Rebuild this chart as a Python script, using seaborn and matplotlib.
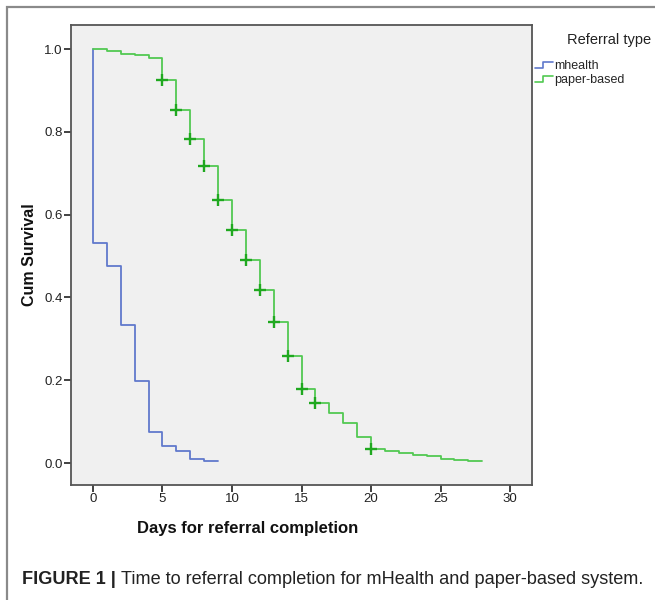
import pandas as pd
import seaborn as sns
import matplotlib.pyplot as plt
from matplotlib.lines import Line2D
from matplotlib.patches import Rectangle
from matplotlib.legend_handler import HandlerBase

# Kaplan-Meier style step data
mhealth_days = [0, 0, 1, 2, 3, 4, 5, 6, 7, 8, 9]
mhealth_surv = [1.0, 0.531, 0.475, 0.333, 0.197, 0.074, 0.041, 0.028, 0.010, 0.006, 0.004]

paper_days = [0, 1, 2, 3, 4, 5, 6, 7, 8, 9, 10, 11, 12, 13, 14,
              15, 16, 17, 18, 19, 20, 21, 22, 23, 24, 25, 26, 27, 28]
paper_surv = [1.0, 0.996, 0.989, 0.985, 0.978, 0.924, 0.853, 0.783, 0.717, 0.635,
              0.564, 0.491, 0.419, 0.341, 0.258, 0.180, 0.146, 0.120, 0.096, 0.064,
              0.033, 0.029, 0.025, 0.019, 0.016, 0.010, 0.008, 0.005, 0.005]

censor_days = [5, 6, 7, 8, 9, 10, 11, 12, 13, 14, 15, 16, 20]

x_ticks = [0, 5, 10, 15, 20, 25, 30]
y_ticks = [0.0, 0.2, 0.4, 0.6, 0.8, 1.0]

blue = '#6079cc'
green = '#52c952'
green_dark = '#1fa81f'

df = pd.concat([
    pd.DataFrame({'day': mhealth_days, 'surv': mhealth_surv, 'type': 'mhealth'}),
    pd.DataFrame({'day': paper_days, 'surv': paper_surv, 'type': 'paper-based'}),
], ignore_index=True)
lookup = dict(zip(paper_days, paper_surv))
cens = pd.DataFrame({'day': censor_days, 'surv': [lookup[d] for d in censor_days]})

sns.set_style('white')
plt.rcParams['font.family'] = ['Liberation Sans', 'DejaVu Sans']

fig = plt.figure(figsize=(6.55, 6.0), dpi=100)
ax = fig.add_axes([71 / 655, 1 - 485 / 600, 461 / 655, 460 / 600])
ax.set_facecolor('#f0f0f0')

sns.lineplot(data=df, x='day', y='surv', hue='type', palette=[blue, green],
             estimator=None, sort=False, drawstyle='steps-post', linewidth=1.3,
             legend=False, ax=ax)
sns.scatterplot(data=cens, x='day', y='surv', marker='+', s=70, color=green_dark,
                linewidth=1.7, ax=ax, zorder=5)

ax.set_xlim(-1.58, 31.58)
ax.set_ylim(-0.053, 1.058)
ax.set_xticks(x_ticks)
ax.set_yticks(y_ticks)
ax.set_yticklabels([f'{v:.1f}' for v in y_ticks])
ax.tick_params(direction='out', length=5, width=1.3, color='#333333',
               labelsize=9.5, labelcolor='#222222', pad=1, left=True, bottom=True)
for sp in ax.spines.values():
    sp.set_color('#555555')
    sp.set_linewidth(1.3)

ax.set_xlabel('')
ax.set_ylabel('')
fig.text(29 / 655, 1 - 255 / 600, 'Cum Survival', rotation=90, ha='center', va='center',
         fontsize=11.5, fontweight='bold', color='#111111')
fig.text(248 / 655, 1 - 528 / 600, 'Days for referral completion', ha='center', va='center',
         fontsize=12, fontweight='bold', color='#111111')


class StepHandler(HandlerBase):
    def create_artists(self, legend, orig, xd, yd, width, height, fontsize, trans):
        xs = [xd, xd + width * 0.45, xd + width * 0.45, xd + width]
        ys = [yd + height * 0.15, yd + height * 0.15, yd + height * 0.85, yd + height * 0.85]
        ln = Line2D(xs, ys, color=orig.get_color(), linewidth=1.2, transform=trans)
        return [ln]


handles = [Line2D([], [], color=blue), Line2D([], [], color=green)]
leg = fig.legend(handles, ['mhealth', 'paper-based'], loc='upper left',
                 bbox_to_anchor=(530 / 655, 1 - 55 / 600), frameon=False,
                 fontsize=9, handlelength=1.4, handletextpad=0.1,
                 labelspacing=0.2, borderaxespad=0,
                 handler_map={Line2D: StepHandler()})
fig.text(609 / 655, 1 - 40 / 600, 'Referral type', ha='center', va='center',
         fontsize=10.5, color='#222222')

fig.patches.append(Rectangle((7 / 655, -0.1), 1.2, 1 - 7 / 600 + 0.1,
                             transform=fig.transFigure, fill=False,
                             edgecolor='#8a8a8a', linewidth=1.6))

# caption: bold lead, regular rest, fitted to the width of the reference
cap_y = 1 - 580 / 600
t1 = fig.text(22 / 655, cap_y, 'FIGURE 1 | ', ha='left', va='center',
              fontsize=12, fontweight='bold', color='#222222')
t2 = fig.text(0, cap_y, 'Time to referral completion for mHealth and paper-based system.',
              ha='left', va='center', fontsize=12, color='#222222')
r = fig.canvas.get_renderer()
w = t1.get_window_extent(r).width + t2.get_window_extent(r).width
size = 12 * (643 - 22) / w
t1.set_fontsize(size)
t2.set_fontsize(size)
x2 = 22 + t1.get_window_extent(r).width
t2.set_x(x2 / 655)

fig.savefig('out.png', dpi=100)
